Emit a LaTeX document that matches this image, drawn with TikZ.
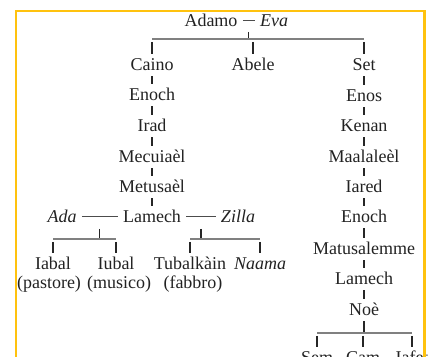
\documentclass[tikz,border=0pt]{standalone}
\usepackage{fontspec}
\setmainfont{Liberation Serif}
\usetikzlibrary{calc}
\definecolor{frameline}{HTML}{FFC20E}
\definecolor{ink}{HTML}{222222}

\begin{document}
\begin{tikzpicture}[x=0.5pt,y=-0.5pt,font=\fontsize{9}{11}\selectfont,
  nm/.style={anchor=base,text=ink,inner xsep=2.5pt,inner ysep=2.5pt,text height=6pt,text depth=0pt},
  tick/.style={draw=black!85,line width=0.7pt},
  bar/.style={draw=black!50,line width=0.8pt},
  wed/.style={draw=black!70,line width=0.5pt}]

\useasboundingbox (0,0) rectangle (428,357);
\clip (0,0) rectangle (428,357);

% Adamo e i figli
\node[nm] (adamo) at (211,27) {Adamo};
\node[nm] (eva) at (274,27) {\textit{Eva}};
\node[nm] (caino) at (152,71) {Caino};
\node[nm] (abele) at (253,71) {Abele};
\node[nm] (set) at (364,71) {Set};

% linea di Caino
\node[nm] (enochA) at (152,101) {Enoch};
\node[nm] (irad) at (152,132) {Irad};
\node[nm] (mecuiael) at (152,163) {Mecuiaèl};
\node[nm] (metusael) at (152,193) {Metusaèl};
\node[nm] (lamechA) at (152,223) {Lamech};
\node[nm] (ada) at (62,223) {\textit{Ada}};
\node[nm] (zilla) at (238,223) {\textit{Zilla}};
\node[nm] (iabal) at (53,270) {Iabal};
\node[nm] (iubal) at (116,270) {Iubal};
\node[nm] (tubal) at (190,270) {Tubalkàin};
\node[nm] (naama) at (260,270) {\textit{Naama}};
\node[nm] (pastore) at (49,289) {(pastore)};
\node[nm] (musico) at (119,289) {(musico)};
\node[nm] (fabbro) at (193,289) {(fabbro)};

% linea di Set
\node[nm] (enos) at (364,102) {Enos};
\node[nm] (kenan) at (364,132) {Kenan};
\node[nm] (maalaleel) at (364,163) {Maalaleèl};
\node[nm] (iared) at (364,193) {Iared};
\node[nm] (enochB) at (364,223) {Enoch};
\node[nm] (matus) at (364,255) {Matusalemme};
\node[nm] (lamechB) at (364,285) {Lamech};
\node[nm] (noe) at (364,316) {Noè};
\node[nm] (sem) at (317,364) {Sem};
\node[nm] (cam) at (363,364) {Cam};
\node[nm] (iafet) at (412,364) {Iafet};

% coppie
\draw[wed] (adamo) -- (eva);
\draw[wed] (ada) -- (lamechA);
\draw[wed] (lamechA) -- (zilla);

\coordinate (w0) at ($(adamo.east)!0.5!(eva.west)$);
\coordinate (w1) at ($(ada.east)!0.5!(lamechA.west)$);
\coordinate (w2) at ($(lamechA.east)!0.5!(zilla.west)$);

\coordinate (b0) at (w0 |- 0,39);
\coordinate (b1) at (w1 |- 0,239);
\coordinate (b2) at (w2 |- 0,239);
\coordinate (b3) at (noe |- 0,333);

\draw[tick] ($(w0)+(0,11)$) -- (b0);
\draw[tick] ($(w1)+(0,12)$) -- (b1);
\draw[tick] ($(w2)+(0,12)$) -- (b2);
\draw[tick] (noe) -- (b3);

\draw[bar] (caino |- b0) -- (set |- b0);
\draw[bar] (iabal |- b1) -- (iubal |- b1);
\draw[bar] (tubal |- b2) -- (naama |- b2);
\draw[bar] (sem |- b3) -- (iafet |- b3);

\foreach \k in {caino,abele,set}
  \draw[tick] ($(\k |- b0)+(0,3)$) -- (\k);
\foreach \k in {iabal,iubal}
  \draw[tick] ($(\k |- b1)+(0,3)$) -- (\k);
\foreach \k in {tubal,naama}
  \draw[tick] ($(\k |- b2)+(0,3)$) -- (\k);
\foreach \k in {sem,cam,iafet}
  \draw[tick] ($(\k |- b3)+(0,3)$) -- (\k);

\foreach \p/\q in {caino/enochA,enochA/irad,irad/mecuiael,mecuiael/metusael,metusael/lamechA,
  set/enos,enos/kenan,kenan/maalaleel,maalaleel/iared,iared/enochB,enochB/matus,matus/lamechB,lamechB/noe}
  \draw[tick] (\p) -- (\q);

% cornice
\draw[frameline,line width=1.2pt] (16,380) -- (16,11) -- (424.5,11) -- (424.5,380);

\end{tikzpicture}
\end{document}
